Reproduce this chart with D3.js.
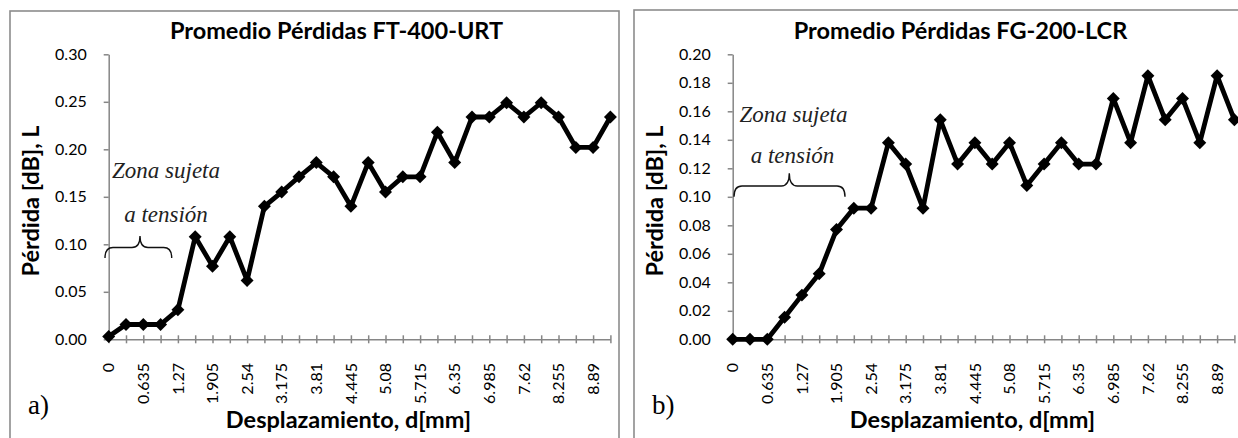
<!DOCTYPE html>
<html>
<head>
<meta charset="utf-8">
<script src="https://cdn.jsdelivr.net/npm/d3@7"></script>
<style>
  html, body { margin: 0; padding: 0; background: #fff; }
  svg { display: block; }
</style>
</head>
<body>
<svg id="chart" width="1238" height="438"></svg>
<script>
// ---------- DATA ----------
const categories = ["0","0.3175","0.635","0.9525","1.27","1.5875","1.905","2.2225","2.54","2.8575",
  "3.175","3.4925","3.81","4.1275","4.445","4.7625","5.08","5.3975","5.715","6.0325",
  "6.35","6.6675","6.985","7.3025","7.62","7.9375","8.255","8.5725","8.89","9.2075"];

const lossFT400 = [0.003,0.0156,0.0156,0.0156,0.031,0.108,0.077,0.108,0.062,0.140,
  0.155,0.171,0.186,0.171,0.140,0.186,0.155,0.171,0.171,0.218,
  0.186,0.234,0.234,0.249,0.234,0.249,0.234,0.202,0.202,0.234];

const lossFG200 = [0,0,0,0.0154,0.031,0.046,0.077,0.092,0.092,0.138,
  0.123,0.092,0.154,0.123,0.138,0.123,0.138,0.108,0.123,0.138,
  0.123,0.123,0.169,0.138,0.185,0.154,0.169,0.138,0.185,0.154];

const yTicksA = [0,0.05,0.10,0.15,0.20,0.25,0.30];
const yTicksB = [0,0.02,0.04,0.06,0.08,0.10,0.12,0.14,0.16,0.18,0.20];

const titleA = "Promedio Pérdidas FT-400-URT";
const titleB = "Promedio Pérdidas FG-200-LCR";
const xTitle = "Desplazamiento, d[mm]";
const yTitle = "Pérdida [dB], L";
const noteLine1 = "Zona sujeta";
const noteLine2 = "a tensión";

// ---------- DRAW ----------
const svg = d3.select("#chart");
svg.append("rect").attr("width",1238).attr("height",438).attr("fill","#fff");

const AXIS = "#868686";
const FONT = "Lato, 'Open Sans', sans-serif";

function panel(cfg) {
  const g = svg.append("g").attr("transform", `translate(${cfg.dx},0)`);

  // panel border
  g.append("rect")
    .attr("x", 10).attr("y", cfg.top)
    .attr("width", cfg.bw).attr("height", 460)
    .attr("fill", "none").attr("stroke", "#8c8c8c").attr("stroke-width", 1.6);

  const x = d3.scalePoint().domain(d3.range(categories.length)).range([108.7, 610.4]);
  const y = d3.scaleLinear().domain([0, cfg.yMax]).range([339.3, 54.3]);

  // y axis
  const ya = g.append("g").attr("transform", `translate(${x(0)},0)`)
    .call(d3.axisLeft(y).tickValues(cfg.yTicks).tickFormat(d3.format(".2f"))
      .tickSizeInner(5).tickSizeOuter(0).tickPadding(17));
  ya.select(".domain").attr("stroke", AXIS).attr("stroke-width", 1.5);
  ya.selectAll(".tick line").attr("stroke", AXIS).attr("stroke-width", 1.5);
  ya.selectAll(".tick text").attr("font-family", FONT).attr("font-size", 16).attr("fill", "#000");

  // x axis
  const xa = g.append("g").attr("transform", `translate(0,${y(0)})`)
    .call(d3.axisBottom(x).tickFormat("").tickSizeOuter(0));
  xa.select(".domain").attr("stroke", AXIS).attr("stroke-width", 1.5);
  xa.selectAll(".tick line").attr("stroke", AXIS).attr("stroke-width", 1.5)
    .attr("y1", -4).attr("y2", 4);

  // x tick labels (every second category), rotated
  g.append("g").selectAll("text")
    .data(d3.range(categories.length).filter(i => i % 2 === 0))
    .join("text")
    .attr("transform", i => `translate(${x(i)},363) rotate(-90)`)
    .attr("text-anchor", "end").attr("dy", "0.36em")
    .attr("font-family", FONT).attr("font-size", 16).attr("fill", "#000")
    .text(i => categories[i]);

  // line + markers
  const line = d3.line().x((d, i) => x(i)).y(d => y(d));
  g.append("path").datum(cfg.values)
    .attr("d", line).attr("fill", "none").attr("stroke", "#000")
    .attr("stroke-width", 4.8).attr("stroke-linejoin", "round");
  const sym = d3.symbol(d3.symbolSquare, 84);
  g.append("g").selectAll("path").data(cfg.values).join("path")
    .attr("d", sym)
    .attr("transform", (d, i) => `translate(${x(i)},${y(d)}) rotate(45)`)
    .attr("fill", "#000");

  // titles
  g.append("text").attr("x", 336.5).attr("y", 39)
    .attr("text-anchor", "middle").attr("font-family", FONT)
    .attr("font-weight", "bold").attr("font-size", 23.5).attr("fill", "#000")
    .text(cfg.title);
  g.append("text").attr("x", 348.5).attr("y", 428)
    .attr("text-anchor", "middle").attr("font-family", FONT)
    .attr("font-weight", "bold").attr("font-size", 23.5).attr("fill", "#000")
    .text(xTitle);
  g.append("text").attr("transform", "translate(39,201) rotate(-90)")
    .attr("text-anchor", "middle").attr("font-family", FONT)
    .attr("font-weight", "bold").attr("font-size", 23.5).attr("fill", "#000")
    .text(yTitle);

  // panel letter
  g.append("text").attr("x", 28).attr("y", 414)
    .attr("font-family", "'Liberation Serif', 'Times New Roman', serif")
    .attr("font-size", 27).attr("fill", "#000")
    .text(cfg.letter);

  // annotation
  const a = cfg.note;
  const serif = "'Liberation Serif', 'Times New Roman', serif";
  g.append("text").attr("x", a.tx).attr("y", a.y1).attr("text-anchor", "middle")
    .attr("font-family", serif).attr("font-style", "italic").attr("font-size", 23)
    .attr("fill", "#222").text(noteLine1);
  g.append("text").attr("x", a.tx2).attr("y", a.y2).attr("text-anchor", "middle")
    .attr("font-family", serif).attr("font-style", "italic").attr("font-size", 23)
    .attr("fill", "#222").text(noteLine2);
  const r = 8;
  const p = d3.path();
  p.moveTo(a.x0, a.ye);
  p.quadraticCurveTo(a.x0, a.yh, a.x0 + r, a.yh);
  p.lineTo(a.xm - r, a.yh);
  p.quadraticCurveTo(a.xm, a.yh, a.xm, a.yp);
  p.quadraticCurveTo(a.xm, a.yh, a.xm + r, a.yh);
  p.lineTo(a.x1 - r, a.yh);
  p.quadraticCurveTo(a.x1, a.yh, a.x1, a.ye);
  g.append("path").attr("d", p.toString()).attr("fill", "none")
    .attr("stroke", "#111").attr("stroke-width", 1.4);
}

panel({
  dx: 0, top: 11, bw: 609, yMax: 0.30, yTicks: yTicksA, values: lossFT400,
  title: titleA, letter: "a)",
  note: { tx: 166, y1: 178, tx2: 166, y2: 221.5, x0: 105, x1: 171.7, xm: 140, yh: 247.5, yp: 236, ye: 258 }
});
panel({
  dx: 624, top: 10, bw: 640, yMax: 0.20, yTicks: yTicksB, values: lossFG200,
  title: titleB, letter: "b)",
  note: { tx: 169.5, y1: 121.5, tx2: 168.5, y2: 163.3, x0: 110, x1: 221, xm: 165.3, yh: 186, yp: 173.3, ye: 196.7 }
});
</script>
</body>
</html>
